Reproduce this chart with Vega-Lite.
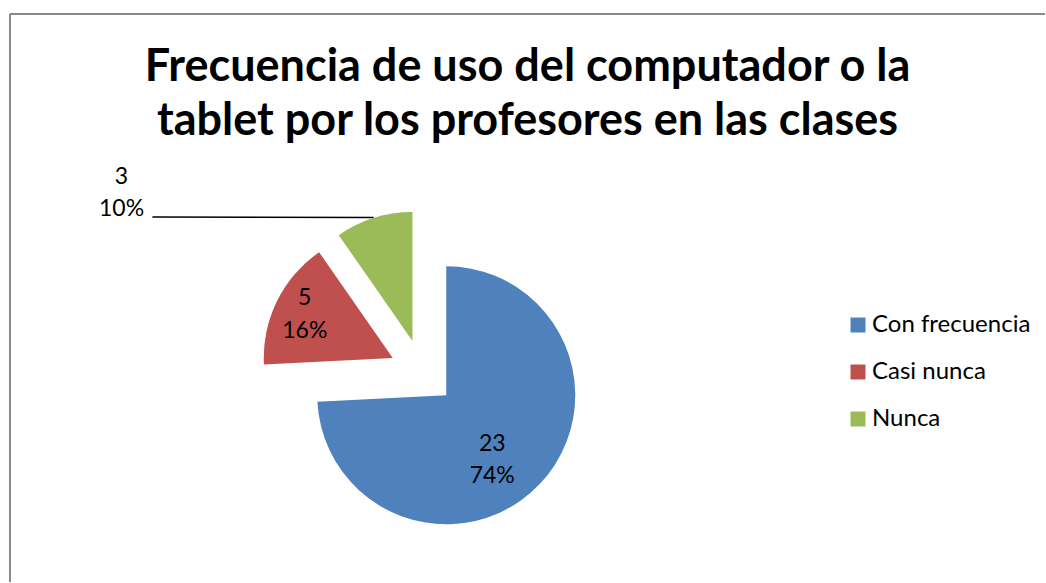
{
  "$schema": "https://vega.github.io/schema/vega-lite/v6.json",
  "width": 1046,
  "height": 583,
  "autosize": {"type": "fit", "contains": "padding"},
  "padding": {"left": 9, "top": 13, "right": 0, "bottom": 0},
  "background": "white",
  "config": {"view": {"stroke": null}, "font": "Lato"},
  "title": {
    "text": ["Frecuencia de uso del computador o la", "tablet por los profesores en las clases"],
    "font": "Lato",
    "fontSize": 45,
    "fontWeight": "bold",
    "color": "black",
    "anchor": "middle",
    "lineHeight": 54,
    "offset": -131,
    "dx": 0
  },
  "data": {
    "values": [
      {"cat": "Con frecuencia", "value": 23},
      {"cat": "Casi nunca", "value": 5},
      {"cat": "Nunca", "value": 3}
    ]
  },
  "transform": [
    {"joinaggregate": [{"op": "sum", "field": "value", "as": "total"}]},
    {"stack": "value", "groupby": [], "sort": [{"field": "value", "order": "descending"}], "as": ["v0", "v1"]},
    {"calculate": "(datum.v0 + datum.v1) / 2", "as": "mid"},
    {"calculate": "datum.value + '\\n' + format(datum.value / datum.total, '.0%')", "as": "label"}
  ],
  "encoding": {
    "x": {"datum": 39.84, "type": "quantitative", "scale": {"domain": [0, 100], "nice": false}, "axis": null},
    "y": {"datum": 63.12, "type": "quantitative", "scale": {"domain": [0, 100], "nice": false, "reverse": true}, "axis": null}
  },
  "layer": [
    {
      "transform": [{"filter": "datum.cat == 'Nunca'"}],
      "mark": {"type": "rule", "color": "#8a8a8a", "strokeWidth": 2},
      "encoding": {
        "x": {"datum": 0, "type": "quantitative"},
        "y": null
      }
    },
    {
      "transform": [{"filter": "datum.cat == 'Nunca'"}],
      "mark": {"type": "rule", "color": "#8a8a8a", "strokeWidth": 2},
      "encoding": {
        "y": {"datum": 0, "type": "quantitative"},
        "x": null
      }
    },
    {
      "transform": [{"filter": "datum.cat == 'Nunca'"}],
      "mark": {"type": "rule", "color": "black", "strokeWidth": 1.5},
      "encoding": {
        "x": {"datum": 13.76, "type": "quantitative"},
        "x2": {"datum": 35.13},
        "y": {"datum": 35.74, "type": "quantitative"},
        "y2": {"datum": 35.84}
      }
    },
    {
      "transform": [{"filter": "datum.cat == 'Con frecuencia'"}],
      "mark": {"type": "arc", "radius": 129, "xOffset": 23.9, "yOffset": 22.7},
      "encoding": {
        "theta": {"field": "v1", "type": "quantitative", "scale": {"nice": false, "zero": true}},
        "theta2": {"field": "v0"},
        "color": {
          "field": "cat", "type": "nominal",
          "scale": {"domain": ["Con frecuencia", "Casi nunca", "Nunca"], "range": ["#4F81BD", "#C0504D", "#9BBB59"]},
          "legend": {
            "orient": "none", "legendX": 836, "legendY": 299, "title": null,
            "symbolType": "square", "symbolSize": 225, "symbolStrokeWidth": 0, "symbolOpacity": 1,
            "labelFont": "Lato", "labelFontSize": 24, "labelColor": "black",
            "rowPadding": 23, "labelOffset": 2
          }
        }
      }
    },
    {
      "transform": [{"filter": "datum.cat == 'Casi nunca'"}],
      "mark": {"type": "arc", "radius": 129, "xOffset": -29.6, "yOffset": -14.5},
      "encoding": {
        "theta": {"field": "v1", "type": "quantitative"},
        "theta2": {"field": "v0"},
        "color": {"field": "cat", "type": "nominal"}
      }
    },
    {
      "transform": [{"filter": "datum.cat == 'Nunca'"}],
      "mark": {"type": "arc", "radius": 129, "xOffset": -9.9, "yOffset": -31.5},
      "encoding": {
        "theta": {"field": "v1", "type": "quantitative"},
        "theta2": {"field": "v0"},
        "color": {"field": "cat", "type": "nominal"}
      }
    },
    {
      "transform": [{"filter": "datum.cat == 'Con frecuencia'"}],
      "mark": {"type": "text", "radius": 80, "xOffset": 23.9, "yOffset": 22.7, "dx": -12, "dy": -6, "fontSize": 23, "lineBreak": "\n", "lineHeight": 32, "font": "Lato", "color": "black", "align": "center", "baseline": "middle"},
      "encoding": {
        "theta": {"field": "mid", "type": "quantitative"},
        "text": {"field": "label"}
      }
    },
    {
      "transform": [{"filter": "datum.cat == 'Casi nunca'"}],
      "mark": {"type": "text", "radius": 98, "xOffset": -29.6, "yOffset": -14.5, "dx": 0, "dy": -17, "fontSize": 23, "lineBreak": "\n", "lineHeight": 33, "font": "Lato", "color": "black", "align": "center", "baseline": "middle"},
      "encoding": {
        "theta": {"field": "mid", "type": "quantitative"},
        "text": {"field": "label"}
      }
    },
    {
      "transform": [{"filter": "datum.cat == 'Nunca'"}],
      "mark": {"type": "text", "radius": 140, "xOffset": -9.9, "yOffset": -31.5, "dx": -249, "dy": -30, "fontSize": 23, "lineBreak": "\n", "lineHeight": 32, "font": "Lato", "color": "black", "align": "center", "baseline": "middle"},
      "encoding": {
        "theta": {"field": "mid", "type": "quantitative"},
        "text": {"field": "label"}
      }
    }
  ]
}
